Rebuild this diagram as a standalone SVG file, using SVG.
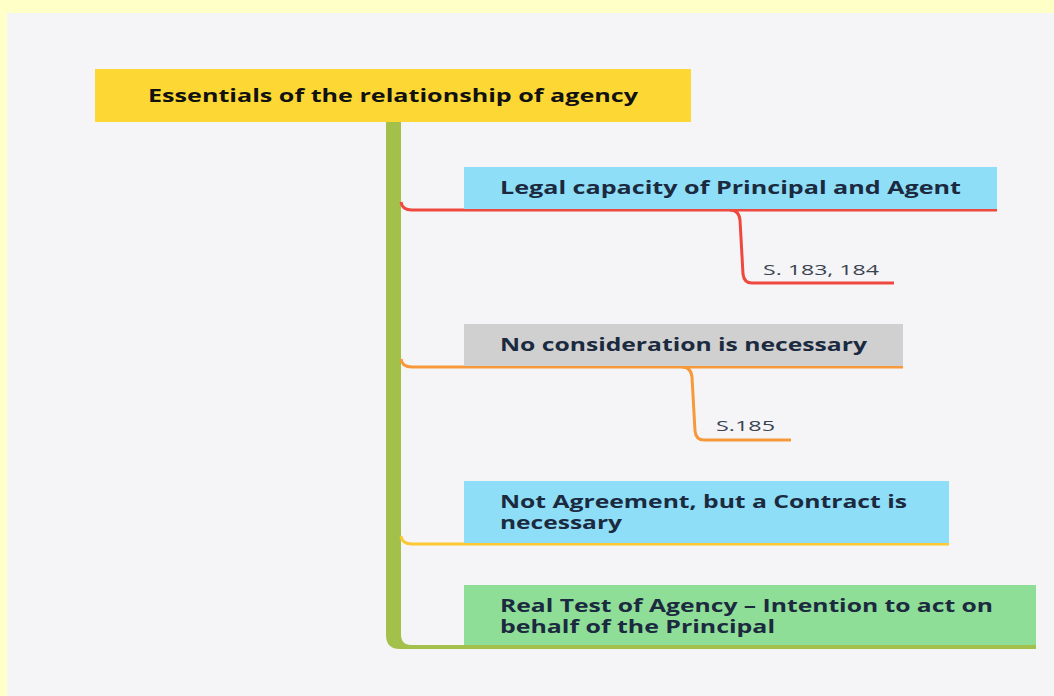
<svg xmlns="http://www.w3.org/2000/svg" width="1054" height="696" viewBox="0 0 1054 696">
<style>
.t{font-family:"Open Sans","Liberation Sans",sans-serif;font-weight:700;font-size:17px;fill:#1B2A3F}
.root{fill:#111111}
.s{font-family:"Open Sans","Liberation Sans",sans-serif;font-weight:400;font-size:15px;fill:#3A4350}
.ln{fill:none;stroke-width:3;stroke-linejoin:round}
</style>
<rect x="0" y="0" width="1054" height="696" fill="#FFFFC8"/>
<rect x="7" y="13" width="1047" height="683" fill="#F5F5F8"/>
<g id="connectors">
<path d="M386,122 L401,122 L401,634 Q401,645 411,645 L1036,645 L1036,649 L400,649 Q386,649 386,635 Z" fill="#A3C14A"/>
<path class="ln" stroke="#F0483E" d="M401,202 Q402,210 412,210 L997,210"/>
<path class="ln" stroke="#F0483E" d="M730,210 Q739,210 740,220 L743,274 Q744,283 752,283 L894,283"/>
<path class="ln" stroke="#F7993A" d="M401,359 Q402,367 412,367 L903,367"/>
<path class="ln" stroke="#F7993A" d="M682,367 Q691,367 692,377 L695,431 Q696,440 704,440 L791,440"/>
<path class="ln" stroke="#FCC834" d="M401,536 Q402,544 412,544 L949,544"/>
</g>
<g id="root">
<rect x="95" y="69" width="596" height="53" fill="#FDD835"/>
<text class="t root" x="148" y="102" textLength="490" lengthAdjust="spacingAndGlyphs">Essentials of the relationship of agency</text>
</g>
<g id="n1">
<rect x="464" y="167" width="533" height="42" fill="#8EDEF8"/>
<text class="t" x="500" y="194" textLength="461" lengthAdjust="spacingAndGlyphs">Legal capacity of Principal and Agent</text>
</g>
<g id="n1a">
<text class="s" x="763" y="275" textLength="116" lengthAdjust="spacingAndGlyphs">S. 183, 184</text>
</g>
<g id="n2">
<rect x="464" y="324" width="439" height="42" fill="#D0D0D0"/>
<text class="t" x="500" y="351" textLength="367" lengthAdjust="spacingAndGlyphs">No consideration is necessary</text>
</g>
<g id="n2a">
<text class="s" x="716" y="431" textLength="59" lengthAdjust="spacingAndGlyphs">S.185</text>
</g>
<g id="n3">
<rect x="464" y="481" width="485" height="62" fill="#8EDEF8"/>
<text class="t" x="500" y="508" textLength="407" lengthAdjust="spacingAndGlyphs">Not Agreement, but a Contract is</text>
<text class="t" x="500" y="529" textLength="122" lengthAdjust="spacingAndGlyphs">necessary</text>
</g>
<g id="n4">
<rect x="464" y="585" width="572" height="60" fill="#8EDE98"/>
<text class="t" x="500" y="612" textLength="493" lengthAdjust="spacingAndGlyphs">Real Test of Agency – Intention to act on</text>
<text class="t" x="500" y="633" textLength="275" lengthAdjust="spacingAndGlyphs">behalf of the Principal</text>
</g>
</svg>
